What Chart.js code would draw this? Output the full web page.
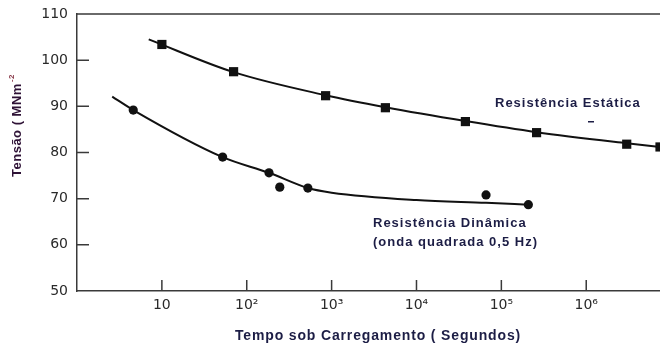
<!DOCTYPE html>
<html>
<head>
<meta charset="utf-8">
<script src="https://cdn.jsdelivr.net/npm/chart.js@4.4.1/dist/chart.umd.min.js"></script>
<style>
  html, body { margin: 0; padding: 0; background: #fff; }
  canvas { display: block; }
</style>
</head>
<body>
<canvas id="graficoFadiga" width="660" height="349"></canvas>
<script>
// Resistência estática (quadrados)
const estaticaTempo = [10, 70, 850, 4300, 37700, 260000, 3000000, 7400000];
const estaticaTensao = [103.4, 97.5, 92.3, 89.7, 86.7, 84.3, 81.8, 81.2];
// curva traçada sobre os pontos estáticos
const curvaEstaticaTempo = [7, 70, 850, 4300, 37700, 260000, 3000000, 7400000];
const curvaEstaticaTensao = [104.5, 97.4, 92.4, 89.8, 86.8, 84.4, 82.0, 81.2];

// Resistência dinâmica (círculos)
const dinamicaTempo = [4.6, 52, 183, 245, 525, 66000, 208000];
const dinamicaTensao = [89.2, 79.0, 75.6, 72.5, 72.3, 70.8, 68.7];
// curva traçada sobre os pontos dinâmicos
const curvaDinamicaTempo = [2.6, 4.6, 52, 183, 525, 1000, 10000, 66000, 208000];
const curvaDinamicaTensao = [92.1, 89.2, 79.0, 75.6, 72.3, 71.3, 69.7, 69.1, 68.7];

// eixos
const xTicks = [10, 100, 1000, 10000, 100000, 1000000];
const xTickLabels = ['10', '10²', '10³', '10⁴', '10⁵', '10⁶'];
const yTicks = [50, 60, 70, 80, 90, 100, 110];

const pares = (xs, ys) => xs.map((v, i) => ({ x: v, y: ys[i] }));

const corTexto = '#1c1d45';

// moldura superior, marcas internas dos eixos e textos
const extras = {
  id: 'extras',
  afterDraw(chart) {
    const { ctx, chartArea, scales: { x, y } } = chart;
    ctx.save();
    ctx.strokeStyle = '#3a3a3a';
    ctx.lineWidth = 1.5;
    ctx.beginPath();
    ctx.moveTo(chartArea.left, chartArea.top);
    ctx.lineTo(chartArea.right, chartArea.top);
    yTicks.slice(1, -1).forEach(v => {
      const py = y.getPixelForValue(v);
      ctx.moveTo(chartArea.left, py);
      ctx.lineTo(chartArea.left + 12, py);
    });
    xTicks.forEach(v => {
      const px = x.getPixelForValue(v);
      ctx.moveTo(px, chartArea.bottom);
      ctx.lineTo(px, chartArea.bottom - 11);
    });
    ctx.stroke();

    ctx.fillStyle = corTexto;
    ctx.textBaseline = 'middle';
    ctx.textAlign = 'left';
    ctx.letterSpacing = '1px';
    ctx.font = 'bold 13px "Liberation Sans", Arial, sans-serif';
    ctx.fillText('Resistência Estática', 495, 103);
    ctx.fillText('Resistência Dinâmica', 373, 223);
    ctx.fillText('(onda quadrada 0,5 Hz)', 373, 242);
    ctx.fillRect(588, 121, 6, 1.5);

    // título do eixo x
    ctx.textAlign = 'center';
    ctx.letterSpacing = '0.85px';
    ctx.font = 'bold 14px "Liberation Sans", Arial, sans-serif';
    ctx.fillText('Tempo sob Carregamento ( Segundos)', 378, 336);

    // título do eixo y
    ctx.translate(17, 177);
    ctx.rotate(-Math.PI / 2);
    ctx.textAlign = 'left';
    ctx.letterSpacing = '0.5px';
    ctx.fillStyle = '#2e1236';
    ctx.font = 'bold 13px "Liberation Sans", Arial, sans-serif';
    const t = 'Tensão ( MNm';
    ctx.fillText(t, 0, 0);
    const w = ctx.measureText(t).width;
    ctx.font = 'bold 8px "Liberation Sans", Arial, sans-serif';
    ctx.fillStyle = '#8a3a4a';
    ctx.fillText('-2', w + 1, -5);
    ctx.restore();
  }
};

const data = {
  datasets: [
    {
      label: 'Curva estática',
      data: pares(curvaEstaticaTempo, curvaEstaticaTensao),
      borderColor: '#111',
      borderWidth: 2,
      pointRadius: 0,
      cubicInterpolationMode: 'monotone',
      fill: false
    },
    {
      label: 'Resistência Estática',
      data: pares(estaticaTempo, estaticaTensao),
      showLine: false,
      pointStyle: 'rect',
      pointRadius: 6.5,
      backgroundColor: '#111',
      borderColor: '#111',
      borderWidth: 0
    },
    {
      label: 'Curva dinâmica',
      data: pares(curvaDinamicaTempo, curvaDinamicaTensao),
      borderColor: '#111',
      borderWidth: 2,
      pointRadius: 0,
      cubicInterpolationMode: 'monotone',
      fill: false
    },
    {
      label: 'Resistência Dinâmica',
      data: pares(dinamicaTempo, dinamicaTensao),
      showLine: false,
      pointStyle: 'circle',
      pointRadius: 4.6,
      backgroundColor: '#111',
      borderColor: '#111',
      borderWidth: 0
    }
  ]
};

const config = {
  type: 'line',
  data: data,
  plugins: [extras],
  options: {
    responsive: false,
    animation: false,
    layout: { autoPadding: false, padding: { top: 14, right: 0, left: 0, bottom: 0 } },
    plugins: {
      legend: { display: false },
      tooltip: { enabled: false }
    },
    scales: {
      x: {
        type: 'logarithmic',
        min: 1,
        max: 7400000,
        grid: { display: false, drawTicks: false },
        border: { display: true, color: '#3a3a3a', width: 1.5 },
        afterBuildTicks: (scale) => { scale.ticks = xTicks.map(v => ({ value: v })); },
        afterFit: (scale) => {
          scale.height = 58;
          scale.paddingLeft = 0;
          scale.paddingRight = 0;
        },
        ticks: {
          autoSkip: false,
          maxRotation: 0,
          padding: 6,
          color: '#2a2a2a',
          font: { family: '"DejaVu Sans", sans-serif', size: 14 },
          callback: (value, index) => xTickLabels[index]
        }
      },
      y: {
        min: 50,
        max: 110,
        grid: { display: false, drawTicks: false },
        border: { display: true, color: '#3a3a3a', width: 1.5 },
        afterBuildTicks: (scale) => { scale.ticks = yTicks.map(v => ({ value: v })); },
        afterFit: (scale) => {
          scale.width = 77;
          scale.paddingTop = 0;
          scale.paddingBottom = 0;
        },
        ticks: {
          padding: 9,
          color: '#2a2a2a',
          font: { family: '"DejaVu Sans", sans-serif', size: 14 }
        }
      }
    }
  }
};

const chart = new Chart(document.getElementById('graficoFadiga'), config);
</script>
</body>
</html>
